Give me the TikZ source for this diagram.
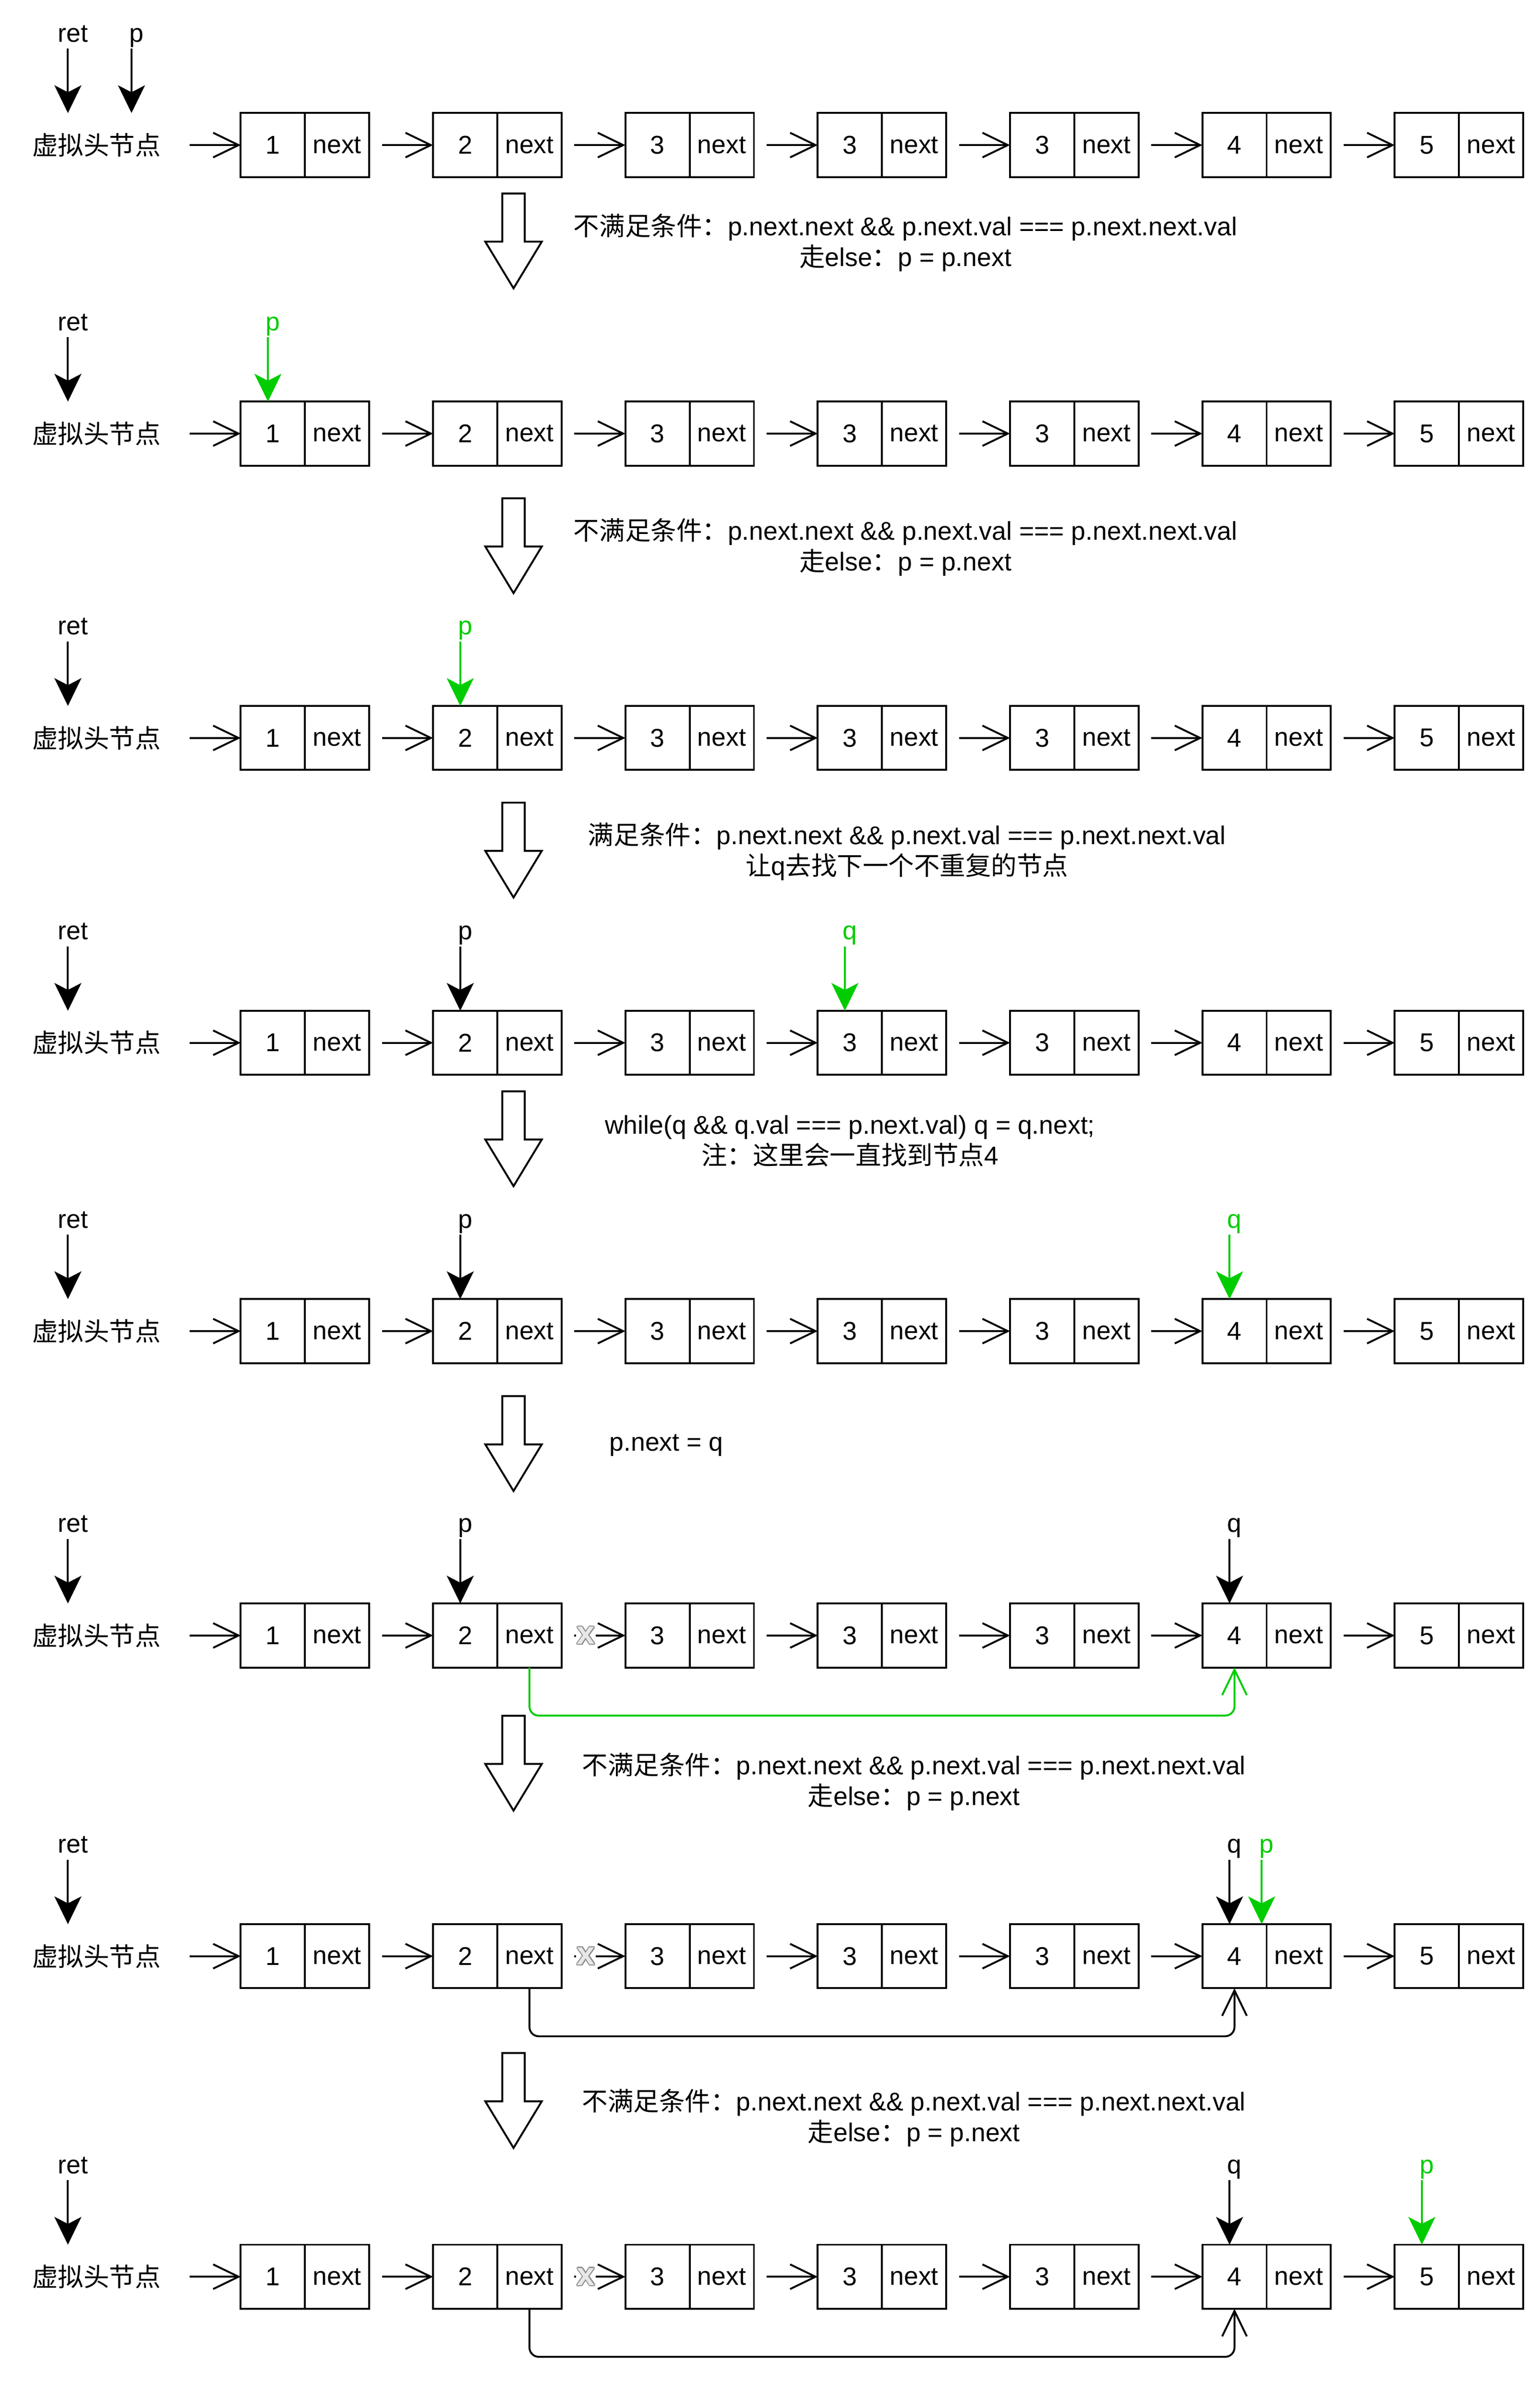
\documentclass[tikz,border=0pt]{standalone}
\usepackage{fontspec}
\setmainfont{Liberation Sans}
\newfontfamily\cjk{Noto Sans CJK SC}
\usepackage{tikz}
\usetikzlibrary{arrows.meta, positioning, calc}
\definecolor{ptrgreen}{HTML}{00CC00}
\definecolor{cutgray}{HTML}{8C8C8C}
\definecolor{cutfill}{HTML}{E8E8E8}

\newcommand{\zh}[1]{{\cjk #1}}
\newcommand{\txtsize}{\fontsize{9.5}{11.4}\selectfont}

% label above a target point, arrow straight down onto it
\newcommand{\ptrdown}[4]{%
    \node[ptrlabel, text=#4] (#1) at ($(#3)+(0,-46.2)$) {#2};
    \draw[ptrline, #4] ($(#1.base)+(-3.2,4.4)$) -- ($(#3)+(-3.2,0)$);
}

\tikzset{
    cell/.style={draw, line width=0.7pt, minimum width=0.835cm, minimum height=0.832cm, inner sep=0pt, outer sep=0pt},
    head/.style={minimum width=2.092cm, minimum height=0.832cm, inner sep=0pt, outer sep=0pt, font=\txtsize\cjk},
    link/.style={line width=0.7pt, -{Straight Barb[length=0.33cm, width=0.32cm]}, shorten <=0.166cm},
    jump/.style={line width=0.7pt, rounded corners=0.12cm, -{Straight Barb[length=0.33cm, width=0.32cm]}},
    ptrlabel/.style={anchor=base, inner sep=0pt},
    ptrline/.style={line width=0.7pt, -{Stealth[length=0.36cm, width=0.35cm, inset=0.09cm]}},
    note/.style={align=center, inner sep=0pt},
    cut/.style={font=\bfseries\fontsize{12}{12}\selectfont, inner sep=0.3pt},
    bigdown/.pic={
        \draw[line width=0.7pt] (-7.3,0) -- (7.3,0) -- (7.3,31.3) -- (18.35,31.3)
            -- (0,61.6) -- (-18.35,31.3) -- (-7.3,31.3) -- cycle;
    }
}

\begin{document}
\begin{tikzpicture}[x=0.02cm, y=-0.02cm, font=\txtsize]
    \useasboundingbox (0,0) rectangle (1000,1558.8);

    % the eight states of the list
    \foreach \row/\yy in {1/94.2, 2/281.5, 3/479.1, 4/677.0, 5/864.2, 6/1061.8, 7/1270.0, 8/1478.1} {
        \node[head] (h\row) at (62.7,\yy) {虚拟头节点};
        \foreach \i/\val in {1/1, 2/2, 3/3, 4/3, 5/3, 6/4, 7/5} {
            \node[cell] (v\row-\i) at ({177.2+(\i-1)*124.9},\yy) {\val};
            \node[cell, right=0pt of v\row-\i] (n\row-\i) {next};
        }
        \draw[link] (h\row.east) -- (v\row-1.west);
        \foreach \i [count=\j from 2] in {1,...,6} {
            \draw[link] (n\row-\i.east) -- (v\row-\j.west);
        }
        \coordinate (rt\row) at (47.3,{\yy-20.8});
        \ptrdown{ret\row}{ret}{rt\row}{black}
    }

    % pointers p and q
    \coordinate (hp1) at (88.6,73.4);
    \ptrdown{p1}{p}{hp1}{black}
    \ptrdown{p2}{p}{v2-1.north}{ptrgreen}
    \ptrdown{p3}{p}{v3-2.north}{ptrgreen}
    \ptrdown{p4}{p}{v4-2.north}{black}
    \ptrdown{q4}{q}{v4-4.north}{ptrgreen}
    \ptrdown{p5}{p}{v5-2.north}{black}
    \ptrdown{q5}{q}{v5-6.north}{ptrgreen}
    \ptrdown{p6}{p}{v6-2.north}{black}
    \ptrdown{q6}{q}{v6-6.north}{black}
    \ptrdown{q7}{q}{v7-6.north}{black}
    \ptrdown{p7}{p}{v7-6.north east}{ptrgreen}
    \ptrdown{q8}{q}{v8-6.north}{black}
    \ptrdown{p8}{p}{v8-7.north}{ptrgreen}

    % p.next jumps over the duplicates, old link crossed out
    \foreach \row/\col in {6/ptrgreen, 7/black, 8/black} {
        \draw[jump, \col] (n\row-2.south) -- ++(0,31.2) -| (v\row-6.south);
        \node[cut, fill=white, text=white] (cut\row) at ($(n\row-2.east)+(15.8,0)$) {x};
        \foreach \a in {0,45,...,315}
            \node[cut, text=cutgray] (cut\row-\a) at ($(cut\row)+(\a:0.7)$) {x};
        \node[cut, text=cutfill] (cutx\row) at (cut\row) {x};
    }

    % big arrows between the states
    \foreach \ty in {125.6, 323.5, 521.1, 708.5, 906.4, 1113.9, 1332.9}
        \pic at (333.5,\ty) {bigdown};

    % notes
    \node[note] (t1) at (588,157.5) {\zh{不满足条件：}p.next.next \&\& p.next.val === p.next.next.val\\\zh{走}else\zh{：}p = p.next};
    \node[note] (t2) at (588,355.3) {\zh{不满足条件：}p.next.next \&\& p.next.val === p.next.next.val\\\zh{走}else\zh{：}p = p.next};
    \node[note] (t3) at (589,553.0) {\zh{满足条件：}p.next.next \&\& p.next.val === p.next.next.val\\\zh{让}q\zh{去找下一个不重复的节点}};
    \node[note] (t4) at (552,740.7) {while(q \&\& q.val === p.next.val) q = q.next;\\\zh{注：这里会一直找到节点}4};
    \node[note] (t5) at (432.7,938.2) {p.next = q};
    \node[note] (t6) at (593.5,1156.7) {\zh{不满足条件：}p.next.next \&\& p.next.val === p.next.next.val\\\zh{走}else\zh{：}p = p.next};
    \node[note] (t7) at (593.5,1375.0) {\zh{不满足条件：}p.next.next \&\& p.next.val === p.next.next.val\\\zh{走}else\zh{：}p = p.next};
\end{tikzpicture}
\end{document}
